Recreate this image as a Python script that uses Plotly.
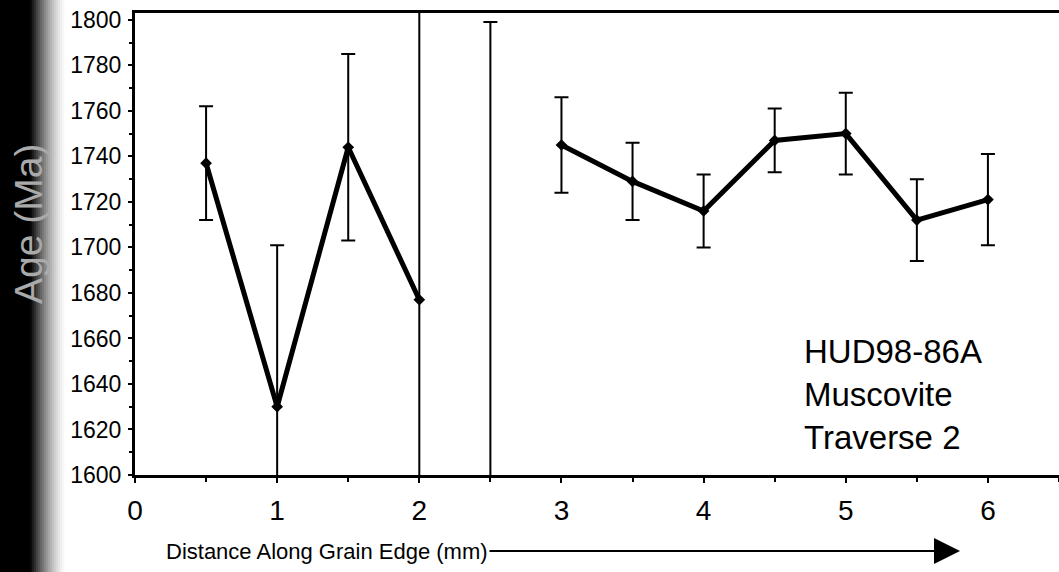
import plotly.graph_objects as go

# Ar-Ar spot ages along the grain edge, HUD98-86A muscovite, traverse 2
distance_mm = [0.5, 1.0, 1.5, 2.0, 2.5, 3.0, 3.5, 4.0, 4.5, 5.0, 5.5, 6.0]
age_ma = [1737, 1630, 1744, 1677, None, 1745, 1729, 1716, 1747, 1750, 1712, 1721]
age_err = [25, 71, 41, 130, None, 21, 17, 16, 14, 18, 18, 20]

# spot at 2.5 mm: no usable age, only its (very wide) uncertainty range
unresolved_x = [2.5]
unresolved_mid = [1700]
unresolved_up = [99]
unresolved_down = [150]

y_ticks = list(range(1600, 1801, 20))
x_ticks = [0, 1, 2, 3, 4, 5, 6]

W, H = 1059, 572
L, R, T, B = 135, 0, 13, 97
PW, PH = W - L - R, H - T - B


def px_x(p):
    return (p - L) / PW


def px_y(p):
    return (H - B - p) / PH


FONT = "Liberation Sans, Arial, sans-serif"

fig = go.Figure()

fig.add_trace(go.Scatter(
    x=distance_mm, y=age_ma,
    mode="lines+markers",
    connectgaps=False,
    line=dict(color="black", width=5),
    marker=dict(symbol="diamond", size=9, color="black"),
    error_y=dict(type="data", array=age_err, visible=True,
                 color="black", thickness=2, width=7),
    showlegend=False,
))

fig.add_trace(go.Scatter(
    x=unresolved_x, y=unresolved_mid,
    mode="markers",
    marker=dict(size=1, color="rgba(0,0,0,0)"),
    error_y=dict(type="data", symmetric=False, array=unresolved_up,
                 arrayminus=unresolved_down, visible=True,
                 color="black", thickness=2, width=7),
    showlegend=False,
))

# dark scanner shadow along the left edge
shapes = []
solid_end = 30
fade_end = 66
shapes.append(dict(type="rect", xref="paper", yref="paper",
                   x0=px_x(0), x1=px_x(solid_end), y0=px_y(H), y1=px_y(0),
                   fillcolor="black", line=dict(width=0), layer="above"))
steps = 18
for i in range(steps):
    a = solid_end + (fade_end - solid_end) * i / steps
    b = solid_end + (fade_end - solid_end) * (i + 1) / steps
    op = (1 - (i + 0.5) / steps) ** 1.4
    shapes.append(dict(type="rect", xref="paper", yref="paper",
                       x0=px_x(a), x1=px_x(b), y0=px_y(H), y1=px_y(0),
                       fillcolor=f"rgba(0,0,0,{op:.3f})", line=dict(width=0),
                       layer="above"))

annotations = [
    dict(text="HUD98-86A<br>Muscovite<br>Traverse 2",
         x=px_x(802), y=px_y(394), xref="paper", yref="paper",
         xanchor="left", yanchor="middle", align="left", showarrow=False,
         font=dict(family=FONT, size=33, color="black")),
    dict(text="Age (Ma)", textangle=-90,
         x=px_x(28), y=px_y(224), xref="paper", yref="paper",
         xanchor="center", yanchor="middle", showarrow=False,
         font=dict(family=FONT, size=39, color="#aaaaaa")),
    dict(text="Distance Along Grain Edge (mm)",
         x=px_x(960), y=px_y(551), xref="paper", yref="paper",
         ax=327 - 960, ay=0, axref="pixel", ayref="pixel",
         showarrow=True, arrowhead=2, arrowsize=2.6, arrowwidth=2,
         arrowcolor="black", standoff=0, startstandoff=0,
         font=dict(family=FONT, size=22, color="black")),
]

fig.update_layout(
    width=W, height=H,
    margin=dict(l=L, r=R, t=T, b=B, autoexpand=False),
    paper_bgcolor="white", plot_bgcolor="white",
    shapes=shapes, annotations=annotations,
    font=dict(family=FONT, color="black"),
)

fig.update_xaxes(
    range=[0, 6.5], tickvals=x_ticks, ticktext=[str(v) for v in x_ticks],
    ticks="outside", ticklen=5, tickwidth=1.5, tickcolor="black",
    minor=dict(dtick=0.5, tick0=0, ticks="outside", ticklen=4, tickcolor="black"),
    showline=True, linecolor="black", linewidth=3, mirror=True,
    showgrid=False, zeroline=False,
    tickfont=dict(family=FONT, size=28, color="black"),
    ticklabelstandoff=3,
)

fig.update_yaxes(
    range=[1600, 1803], tickvals=y_ticks, ticktext=[str(v) for v in y_ticks],
    ticks="outside", ticklen=4, tickwidth=1.5, tickcolor="black",
    minor=dict(dtick=10, tick0=1600, ticks="outside", ticklen=3, tickcolor="black"),
    showline=True, linecolor="black", linewidth=3,
    showgrid=False, zeroline=False,
    tickfont=dict(family=FONT, size=23, color="black"),
    ticklabelstandoff=2,
)

fig.write_html("out.html")
